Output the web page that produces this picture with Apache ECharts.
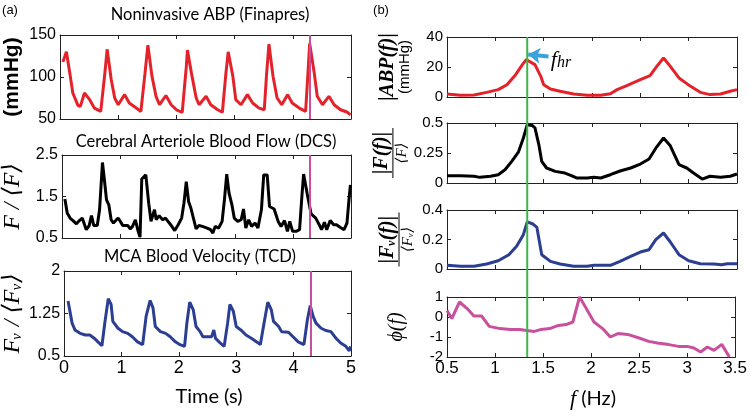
<!DOCTYPE html>
<html><head><meta charset="utf-8">
<script src="https://cdn.jsdelivr.net/npm/echarts@6/dist/echarts.min.js"></script>
<style>html,body{margin:0;padding:0;background:#fff}#c{width:750px;height:418px}</style>
</head><body><div id="c"></div>
<script>
// ---------- data ----------
const abpSeries = [[0.05,118],[0.11,130],[0.17,104],[0.22,81],[0.31,66],[0.35,65],[0.42,81],[0.51,73],[0.59,63],[0.70,59],[0.77,104],[0.81,133],[0.88,97],[0.94,75],[1.00,67],[1.11,79],[1.19,69],[1.31,63],[1.39,59],[1.46,104],[1.51,138],[1.58,101],[1.65,77],[1.71,67],[1.82,78],[1.91,67],[2.00,61],[2.10,58],[2.17,112],[2.19,132],[2.26,104],[2.34,75],[2.39,67],[2.51,77],[2.59,67],[2.71,61],[2.79,58],[2.85,104],[2.89,130],[2.97,101],[3.02,73],[3.11,67],[3.22,79],[3.31,69],[3.42,63],[3.51,61],[3.55,104],[3.59,139],[3.66,101],[3.73,75],[3.81,67],[3.91,79],[3.99,69],[4.11,63],[4.22,59],[4.26,104],[4.29,140],[4.37,104],[4.42,77],[4.51,67],[4.62,77],[4.71,67],[4.82,61],[4.94,58],[4.99,55]];
const dcsSeries = [[0.05,1.44],[0.09,1.1],[0.14,0.98],[0.19,0.92],[0.25,0.84],[0.30,0.92],[0.35,0.98],[0.42,0.70],[0.47,0.80],[0.51,1.04],[0.55,0.80],[0.61,0.80],[0.65,1.18],[0.70,2.32],[0.74,1.82],[0.77,1.42],[0.81,1.30],[0.85,0.94],[0.89,0.86],[0.97,0.98],[1.01,0.90],[1.05,0.80],[1.14,0.80],[1.18,0.72],[1.22,0.78],[1.27,0.94],[1.31,0.70],[1.35,0.52],[1.38,1.92],[1.45,2.02],[1.50,1.34],[1.54,0.90],[1.60,1.18],[1.63,0.94],[1.68,1.04],[1.74,0.94],[1.79,0.98],[1.88,0.82],[1.95,0.68],[2.01,0.82],[2.07,0.98],[2.11,1.34],[2.15,1.86],[2.19,1.38],[2.23,1.22],[2.28,0.94],[2.32,0.72],[2.37,0.80],[2.43,0.78],[2.51,0.74],[2.57,0.70],[2.61,0.62],[2.65,0.78],[2.71,0.74],[2.77,0.90],[2.81,1.42],[2.85,2.04],[2.89,1.58],[2.94,1.30],[2.98,0.98],[3.04,0.90],[3.10,0.94],[3.14,1.20],[3.18,0.74],[3.23,0.94],[3.28,0.78],[3.34,0.86],[3.39,0.74],[3.45,1.18],[3.49,2.02],[3.55,2.02],[3.59,1.26],[3.67,1.20],[3.74,0.90],[3.79,0.78],[3.85,0.92],[3.90,0.66],[3.94,0.90],[3.99,0.66],[4.05,0.66],[4.11,0.70],[4.15,1.50],[4.18,2.04],[4.24,1.58],[4.31,1.08],[4.39,0.98],[4.45,0.82],[4.49,0.70],[4.54,0.88],[4.58,0.70],[4.64,0.92],[4.70,0.82],[4.75,0.82],[4.81,0.76],[4.88,0.70],[4.93,0.86],[4.97,1.50],[4.99,1.78]];
const tcdSeries = [[0.07,1.47],[0.14,1.08],[0.19,0.96],[0.28,0.90],[0.37,0.87],[0.45,0.87],[0.53,0.81],[0.59,0.75],[0.66,0.68],[0.71,1.08],[0.77,1.51],[0.82,1.41],[0.85,1.11],[0.94,0.99],[1.02,0.93],[1.11,0.90],[1.19,0.84],[1.28,0.75],[1.37,0.70],[1.43,1.20],[1.50,1.48],[1.55,1.35],[1.59,1.02],[1.68,0.93],[1.77,0.90],[1.85,0.84],[1.94,0.75],[2.02,0.70],[2.10,0.67],[2.14,1.08],[2.19,1.45],[2.25,1.32],[2.30,1.02],[2.37,0.93],[2.42,0.84],[2.51,0.84],[2.57,0.84],[2.61,0.96],[2.64,0.81],[2.71,0.74],[2.79,0.67],[2.85,1.08],[2.89,1.41],[2.95,1.29],[3.00,1.02],[3.08,0.96],[3.17,0.87],[3.27,0.81],[3.37,0.74],[3.42,0.70],[3.48,1.05],[3.55,1.45],[3.61,1.32],[3.65,1.11],[3.74,1.02],[3.79,0.93],[3.91,0.92],[3.99,0.84],[4.08,0.75],[4.18,0.70],[4.24,1.14],[4.29,1.39],[4.34,1.20],[4.39,1.08],[4.48,0.99],[4.56,0.95],[4.65,0.93],[4.74,0.81],[4.82,0.73],[4.91,0.67],[4.97,0.59],[4.99,0.67]];
const abpSpectrum = [[0.5,2.0],[0.64,1.1],[0.78,1.3],[0.91,3.1],[1.03,4.9],[1.12,8.2],[1.21,14.9],[1.28,21.6],[1.32,24.9],[1.34,23.8],[1.41,21.6],[1.47,13.8],[1.50,8.2],[1.57,5.3],[1.67,3.8],[1.81,2.0],[1.95,1.1],[2.09,1.1],[2.19,2.2],[2.26,4.9],[2.36,7.6],[2.50,11.6],[2.60,14.2],[2.67,20.4],[2.74,26.0],[2.81,20.4],[2.90,12.7],[3.02,7.1],[3.12,3.1],[3.22,1.6],[3.33,2.0],[3.43,3.8],[3.50,4.9]];
const dcsSpectrum = [[0.5,0.061],[0.64,0.061],[0.78,0.056],[0.84,0.047],[0.95,0.056],[1.03,0.069],[1.10,0.11],[1.17,0.18],[1.24,0.26],[1.29,0.375],[1.33,0.486],[1.38,0.48],[1.41,0.46],[1.45,0.32],[1.48,0.18],[1.53,0.125],[1.62,0.097],[1.72,0.083],[1.78,0.064],[1.84,0.042],[1.95,0.042],[2.02,0.047],[2.09,0.042],[2.19,0.069],[2.29,0.10],[2.40,0.125],[2.50,0.158],[2.59,0.20],[2.66,0.29],[2.74,0.375],[2.81,0.31],[2.90,0.153],[2.98,0.125],[3.05,0.083],[3.14,0.033],[3.22,0.056],[3.33,0.047],[3.43,0.056],[3.50,0.075]];
const tcdSpectrum = [[0.5,0.025],[0.64,0.018],[0.78,0.018],[0.91,0.034],[1.03,0.056],[1.14,0.097],[1.22,0.154],[1.29,0.233],[1.33,0.319],[1.39,0.305],[1.43,0.282],[1.48,0.097],[1.57,0.052],[1.67,0.034],[1.81,0.018],[1.95,0.018],[2.02,0.025],[2.19,0.025],[2.29,0.052],[2.40,0.086],[2.50,0.115],[2.59,0.131],[2.66,0.199],[2.74,0.244],[2.81,0.183],[2.90,0.097],[3.00,0.056],[3.12,0.036],[3.26,0.034],[3.34,0.029],[3.40,0.036],[3.50,0.036]];
const phaseSpectrum = [[0.5,0.33],[0.55,-0.08],[0.63,0.75],[0.71,0.42],[0.78,0.05],[0.86,0.05],[0.94,-0.47],[1.05,-0.58],[1.16,-0.63],[1.26,-0.63],[1.33,-0.67],[1.41,-0.72],[1.48,-0.62],[1.57,-0.58],[1.66,-0.42],[1.74,-0.38],[1.81,-0.25],[1.88,1.0],[1.95,0.42],[2.03,-0.25],[2.12,-0.58],[2.20,-1.0],[2.28,-0.83],[2.38,-0.87],[2.50,-1.05],[2.60,-1.22],[2.69,-1.3],[2.81,-1.38],[2.91,-1.47],[3.00,-1.47],[3.07,-1.55],[3.14,-1.75],[3.21,-1.5],[3.28,-1.67],[3.36,-1.37],[3.44,-2.0]];
const markerTime = 4.29;
const heartRateFreq = 1.33;
const timeRange = [0, 5, 1];
const freqRange = [0.5, 3.5, 0.5];
const yRanges = [[50,150,50],[0.5,2.5,1],[0.5,2,0.75],[0,40,20],[0,0.5,0.25],[0,0.4,0.2],[-2,1,1]];

// ---------- layout ----------
const grids = [
  {left:60, width:291, top:35, height:84},
  {left:60, width:291, top:155, height:83},
  {left:60, width:291, top:271, height:85},
  {left:447, width:290, top:37, height:60},
  {left:447, width:290, top:123, height:60},
  {left:447, width:290, top:210, height:59},
  {left:447, width:290, top:297, height:60},
  {left:447, width:290, top:37, height:320}
];
const TICKF = "'Liberation Sans',Arial,sans-serif";
const SERIF = "'Liberation Serif','DejaVu Serif',serif";
const SANS = "'Liberation Sans',Arial,sans-serif";
const axisCol = '#222';

const names = [
  {name:'(mmHg)', gap:37, style:{fontFamily:SANS, fontWeight:'bold', fontSize:21, color:'#000'}},
  {name:'F / ⟨F⟩', gap:37, style:{fontFamily:SERIF, fontStyle:'italic', fontSize:24, color:'#000'}},
  {name:'Fᵥ / ⟨Fᵥ⟩', gap:37, style:{fontFamily:SERIF, fontStyle:'italic', fontSize:24, color:'#000'}},
  {name:'{a||ABP(f)|}\n{b|(mmHg)}', gap:34, style:{color:'#000', rich:{
      a:{fontFamily:SERIF, fontStyle:'italic', fontWeight:'bold', fontSize:20, lineHeight:18, color:'#000'},
      b:{fontFamily:SANS, fontSize:15, lineHeight:16, color:'#000'}}}},
  {name:'{a||F(f)|}\n{bar| }\n{d|⟨F⟩}', gap:31, style:{color:'#000', rich:{
      a:{fontFamily:SERIF, fontStyle:'italic', fontWeight:'bold', fontSize:20, lineHeight:18, color:'#000'},
      bar:{width:50, height:1, fontSize:1, lineHeight:4, backgroundColor:'#000'},
      d:{fontFamily:SERIF, fontStyle:'italic', fontSize:15, lineHeight:15, color:'#000'}}}},
  {name:'{a||Fᵥ(f)|}\n{bar| }\n{d|⟨Fᵥ⟩}', gap:31, style:{color:'#000', rich:{
      a:{fontFamily:SERIF, fontStyle:'italic', fontWeight:'bold', fontSize:20, lineHeight:18, color:'#000'},
      bar:{width:54, height:1, fontSize:1, lineHeight:4, backgroundColor:'#000'},
      d:{fontFamily:SERIF, fontStyle:'italic', fontSize:15, lineHeight:15, color:'#000'}}}},
  {name:'ϕ(f)', gap:40, style:{fontFamily:SERIF, fontStyle:'italic', fontSize:20, color:'#000'}}
];

const xAxes = [], yAxes = [];
for (let i = 0; i < 7; i++) {
  const left = i < 3;
  const xr = left ? timeRange : freqRange;
  const showX = (i === 2 || i === 6);
  const base = {gridIndex:i, type:'value', min:xr[0], max:xr[1], interval:xr[2], splitLine:{show:false},
    axisLine:{show:true, onZero:false, lineStyle:{color:axisCol, width:1}},
    axisTick:{show:true, inside:true, length:4, lineStyle:{color:axisCol}}};
  xAxes.push(Object.assign({}, base, {position:'bottom',
    axisLabel:{show:showX, margin:3, fontFamily:TICKF, fontSize:left?18:17, color:'#000', showMinLabel:true, showMaxLabel:true}}));
  xAxes.push(Object.assign({}, base, {position:'top', axisLabel:{show:false}}));
  const yr = yRanges[i];
  const ybase = {gridIndex:i, type:'value', min:yr[0], max:yr[1], interval:yr[2], splitLine:{show:false},
    axisLine:{show:true, onZero:false, lineStyle:{color:axisCol, width:1}},
    axisTick:{show:true, inside:true, length:4, lineStyle:{color:axisCol}}};
  yAxes.push(Object.assign({}, ybase, {position:'left', name:names[i].name, nameLocation:'middle', nameGap:names[i].gap,
    nameTextStyle:names[i].style,
    axisLabel:{show:true, margin:4, fontFamily:TICKF, fontSize:left?16:15, color:'#000', showMinLabel:true, showMaxLabel:true}}));
  yAxes.push(Object.assign({}, ybase, {position:'right', axisLabel:{show:false}}));
}
xAxes.push({gridIndex:7, type:'value', min:freqRange[0], max:freqRange[1], show:false});
yAxes.push({gridIndex:7, type:'value', min:0, max:1, show:false});

function lineSeries(i, data, color, extra) {
  return Object.assign({type:'line', xAxisIndex:2*i, yAxisIndex:2*i, data:data, symbol:'none', showSymbol:false,
    lineStyle:{color:color, width:3}, itemStyle:{color:color}, clip:true, z:3}, extra || {});
}
const magentaLine = {symbol:['none','none'], silent:true, label:{show:false},
  lineStyle:{color:'#c64f9f', width:2, type:'solid'}, data:[{xAxis:markerTime}]};

const series = [
  lineSeries(0, abpSeries, '#e3222a', {markLine:magentaLine}),
  lineSeries(1, dcsSeries, '#000000', {markLine:magentaLine}),
  lineSeries(2, tcdSeries, '#2c3e92', {markLine:magentaLine}),
  lineSeries(3, abpSpectrum, '#e3222a', {markLine:{symbol:['none','arrow'], symbolSize:12, silent:true, label:{show:false},
     lineStyle:{color:'#3aa2dc', width:4, type:'solid'},
     data:[[{coord:[1.55,27.0]},{coord:[1.34,28.3]}]]}}),
  lineSeries(4, dcsSpectrum, '#000000'),
  lineSeries(5, tcdSpectrum, '#2c3e92'),
  lineSeries(6, phaseSpectrum, '#c9509c'),
  {type:'line', xAxisIndex:14, yAxisIndex:14, data:[[heartRateFreq,0],[heartRateFreq,1]], symbol:'none',
   lineStyle:{color:'#3cb54a', width:2}, z:5}
];

function txt(x, y, text, size, extra) {
  return {type:'text', style:Object.assign({x:x, y:y, text:text, fontSize:size, fontFamily:"Lato,'Open Sans',sans-serif",
    fill:'#000', textAlign:'center', textVerticalAlign:'middle'}, extra || {})};
}
const graphic = [
  txt(210, 15, 'Noninvasive ABP (Finapres)', 16.5),
  txt(206, 142, 'Cerebral Arteriole Blood Flow (DCS)', 16.5),
  txt(200, 257, 'MCA Blood Velocity (TCD)', 16.5),
  txt(209, 397, 'Time (s)', 20),
  txt(593, 399, '{i|f} (Hz)', 20, {rich:{i:{fontFamily:SERIF, fontStyle:'italic', fontSize:22}}}),
  txt(10, 10, '(a)', 13, {fontFamily:SANS}),
  txt(381, 10, '(b)', 13, {fontFamily:SANS}),
  txt(561, 60, '{f|f}{s|hr}', 20, {rich:{f:{fontFamily:SERIF, fontStyle:'italic', fontSize:22, verticalAlign:'bottom'},
                                          s:{fontFamily:SERIF, fontStyle:'italic', fontSize:16, verticalAlign:'bottom'}}})
];

const chart = echarts.init(document.getElementById('c'), null, {renderer:'canvas'});
chart.setOption({animation:false, backgroundColor:'#fff', grid:grids, xAxis:xAxes, yAxis:yAxes, series:series, graphic:graphic});
</script></body></html>
